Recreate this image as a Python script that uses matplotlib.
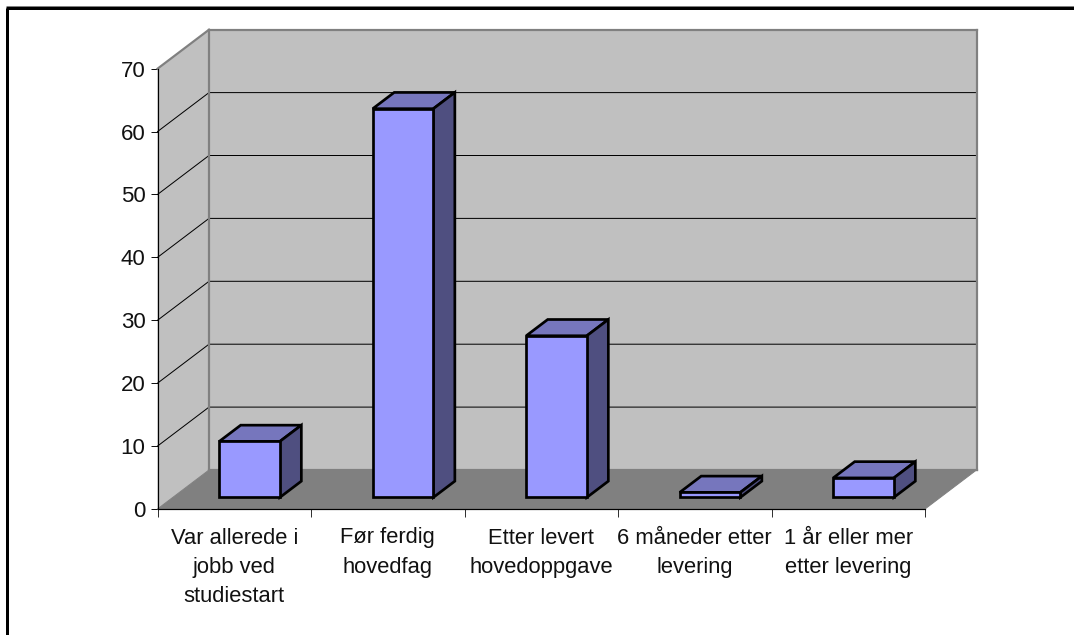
import matplotlib
matplotlib.use("Agg")
import matplotlib.pyplot as plt
from matplotlib.patches import Polygon
from matplotlib.lines import Line2D

categories = ["Var allerede i\njobb ved\nstudiestart", "Før ferdig\nhovedfag",
              "Etter levert\nhovedoppgave", "6 måneder etter\nlevering",
              "1 år eller mer\netter levering"]
values = [8.9, 61.8, 25.7, 0.8, 3.1]
y_ticks = [0, 10, 20, 30, 40, 50, 60, 70]

W, H = 1074, 635
plt.rcParams["font.family"] = ["Liberation Sans", "DejaVu Sans"]
fig = plt.figure(figsize=(W / 100, H / 100), dpi=100, facecolor="white")
L, R, T, B = 157.5, 925.0, 68.7, 509.0
ax = fig.add_axes([L / W, 1 - B / H, (R - L) / W, (B - T) / H])
ax.set_xlim(0, len(categories))
ax.set_ylim(0, 70)
ax.patch.set_visible(False)

px = 0.72  # one pixel in points
ux = (R - L) / len(categories)
uy = (B - T) / 70
DX = 51.5 / ux   # full chart depth, in category units
DY = 39.0 / uy   # full chart depth, in value units


def proj(c, v, d=0.0):
    return (c + d * DX, v + d * DY)


def poly(pts, fc, ec="none", lw=0.0, z=1):
    ax.add_patch(Polygon(pts, closed=True, fc=fc, ec=ec, lw=lw, zorder=z,
                         clip_on=False, joinstyle="miter"))


n = len(categories)
top = y_ticks[-1]
# walls and floor
poly([proj(0, 0, 1), proj(n, 0, 1), proj(n, top, 1), proj(0, top, 1)], "#C0C0C0")
poly([proj(0, 0, 0), proj(0, 0, 1), proj(0, top, 1), proj(0, top, 0)], "#C0C0C0")
poly([proj(0, 0, 0), proj(n, 0, 0), proj(n, 0, 1), proj(0, 0, 1)], "#808080")

# gridlines
for v in y_ticks[1:-1]:
    a, b, c = proj(0, v, 0), proj(0, v, 1), proj(n, v, 1)
    ax.plot([a[0], b[0], c[0]], [a[1], b[1], c[1]], color="black", lw=px,
            zorder=2, clip_on=False, solid_joinstyle="miter")

# wall outlines
edge = dict(color="#808080", lw=2.2 * px, zorder=2.5, clip_on=False, solid_capstyle="projecting")
for p, q in [(proj(0, 0, 1), proj(0, top, 1)), (proj(0, top, 1), proj(n, top, 1)),
             (proj(n, top, 1), proj(n, 0, 1)), (proj(0, top, 0), proj(0, top, 1)),
             (proj(0, 0, 1), proj(n, 0, 1))]:
    ax.plot([p[0], q[0]], [p[1], q[1]], **edge)
ax.plot(*zip(proj(n, 0, 0), proj(n, 0, 1)), color="#808080", lw=px, zorder=2.5, clip_on=False)
ax.plot(*zip(proj(0, 0, 0), proj(0, 0, 1)), color="#808080", lw=px, zorder=2.5, clip_on=False)

# bars
bw = 0.395
d0, d1 = 0.297, 0.714
ek = dict(ec="black", lw=2.7 * px, z=3)
for i, v in enumerate(values):
    x0, x1 = i + 0.5 - bw / 2, i + 0.5 + bw / 2
    poly([proj(x0, v, d0), proj(x1, v, d0), proj(x1, v, d1), proj(x0, v, d1)], "#7676BD", **ek)
    poly([proj(x1, 0, d0), proj(x1, 0, d1), proj(x1, v, d1), proj(x1, v, d0)], "#4F4F80", **ek)
    poly([proj(x0, 0, d0), proj(x1, 0, d0), proj(x1, v, d0), proj(x0, v, d0)], "#9999FF", **ek)

# axes, ticks and labels
for s in ("top", "right"):
    ax.spines[s].set_visible(False)
for s in ("left", "bottom"):
    ax.spines[s].set_linewidth(1.2 * px)
    ax.spines[s].set_color("black")
    ax.spines[s].set_zorder(4)
ax.set_yticks(y_ticks)
ax.tick_params(axis="y", length=7.5 * px, width=px, pad=4.5 * px, labelsize=16, colors="#111111")
ax.set_xticks(range(n + 1))
ax.set_xticklabels([])
ax.tick_params(axis="x", which="major", length=8 * px, width=px, color="#333333")
ax.set_xticks([i + 0.5 for i in range(n)], minor=True)
ax.set_xticklabels(categories, minor=True, fontsize=15.8, linespacing=1.5, color="#111111", ha="center", va="top")
ax.tick_params(axis="x", which="minor", length=0, pad=18.5 * px)

# chart frame
for xs, ys, col, lw in [((6, W), (6, 6), "#808080", 1.0), ((6, W), (7.5, 7.5), "black", 3.0),
                        ((7.5, 7.5), (7.5, H), "black", 3.0)]:
    fig.add_artist(Line2D([x / W for x in xs], [1 - y / H for y in ys], color=col,
                          lw=lw * px, solid_capstyle="butt"))

fig.savefig("out.png", dpi=100, facecolor="white")
